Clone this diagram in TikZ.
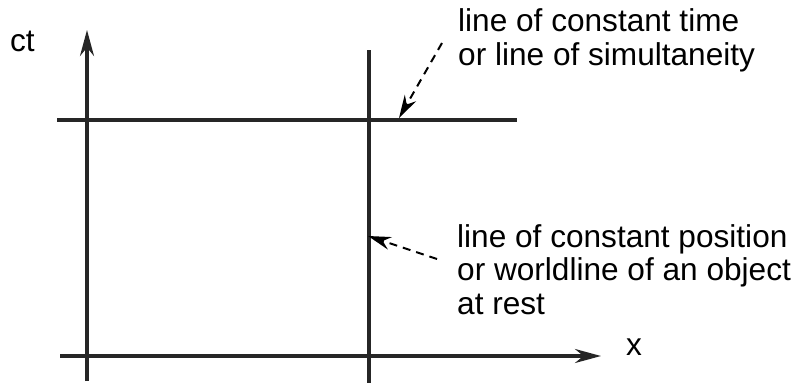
\documentclass[tikz,border=0pt]{standalone}
\usepackage{fontspec}
\setmainfont{Liberation Sans}
\usetikzlibrary{arrows.meta}
\begin{document}
\begin{tikzpicture}[x=1pt,y=-1pt,
  axis/.style={line width=3.2pt,color=black!85},
  axisarrow/.style={axis,-{Stealth[length=26pt,width=14pt]}},
  pointer/.style={line width=2pt,dash pattern=on 8pt off 6pt,-{Stealth[length=23pt,width=13pt]}},
  lbl/.style={inner sep=0pt,anchor=base west,align=left,font=\fontsize{31.6}{33.5}\selectfont}]
\path[use as bounding box] (0,0) rectangle (804,383);
% axes
\coordinate (ctbot) at (87,381);
\coordinate (cttop) at (87,30);
\coordinate (xleft) at (60,356);
\coordinate (xright) at (601,356);
\draw[axisarrow] (ctbot) -- (cttop);
\draw[axisarrow] (xleft) -- (xright);
% line of constant time
\coordinate (hl) at (57,120);
\coordinate (hr) at (517,120);
\draw[axis] (hl) -- (hr);
% line of constant position
\coordinate (vt) at (369,50);
\coordinate (vb) at (369,383);
\draw[axis] (vt) -- (vb);
% labels (base anchor sits on the last line)
\node[lbl] (ct) at (10,51) {ct};
\node[lbl] (xl) at (626,355) {x};
\node[lbl] (t1) at (458,65) {line of constant time\\or line of simultaneity};
\node[lbl] (t2) at (457,314) {line of constant position\\or worldline of an object\\at rest};
% pointers
\coordinate (p1s) at (442,43);
\coordinate (p1e) at (399,118);
\coordinate (p2s) at (437,259);
\coordinate (p2e) at (368,236);
\draw[pointer] (p1s) -- (p1e);
\draw[pointer] (p2s) -- (p2e);
\end{tikzpicture}
\end{document}
